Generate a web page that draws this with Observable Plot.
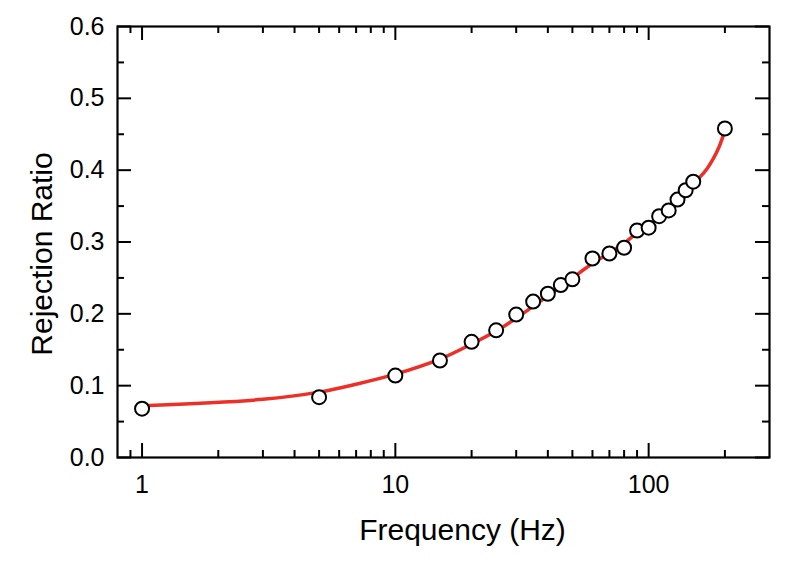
<!DOCTYPE html>
<html>
<head>
<meta charset="utf-8">
<script src="https://cdn.jsdelivr.net/npm/d3@7"></script>
<script src="https://cdn.jsdelivr.net/npm/@observablehq/plot@0.6"></script>
<style>
  html, body { margin: 0; padding: 0; background: #fff; }
</style>
</head>
<body>
<div id="chart"></div>
<script>
// Measured points
const freq = [1, 5, 10, 15, 20, 25, 30, 35, 40, 45, 50, 60, 70, 80, 90, 100, 110, 120, 130, 140, 150, 200];
const ratio = [0.068, 0.084, 0.114, 0.135, 0.161, 0.177, 0.199, 0.217, 0.228, 0.240, 0.248, 0.277, 0.284, 0.292, 0.316, 0.320, 0.336, 0.344, 0.359, 0.372, 0.384, 0.458];

// Fitted curve
const fitFreq = [1, 3, 5, 7, 10, 15, 20, 25, 30, 40, 50, 60, 70, 80, 90, 100, 110, 120, 130, 140, 150, 160, 170, 180, 190, 200];
const fitRatio = [0.072, 0.081, 0.091, 0.102, 0.116, 0.137, 0.158, 0.176, 0.194, 0.225, 0.250, 0.270, 0.285, 0.298, 0.313, 0.324, 0.335, 0.346, 0.357, 0.369, 0.382, 0.391, 0.402, 0.416, 0.433, 0.455];

// Axis ticks
const xMajor = [1, 10, 100];
const xMinor = [0.9, 2, 3, 4, 5, 6, 7, 8, 9, 20, 30, 40, 50, 60, 70, 80, 90, 200];
const yMajor = [0, 0.1, 0.2, 0.3, 0.4, 0.5, 0.6];
const yMinor = [0.05, 0.15, 0.25, 0.35, 0.45, 0.55];

const points = freq.map((f, i) => ({f, r: ratio[i]}));
const fit = fitFreq.map((f, i) => ({f, r: fitRatio[i]}));

const W = 788, H = 566, ML = 117, MR = 19, MT = 26, MB = 109;
const FW = W - ML - MR, FH = H - MT - MB;
const MAJ = 14, MIN = 7;
const tk = {stroke: "#000", strokeWidth: 2};

const plot = Plot.plot({
  width: W,
  height: H,
  marginLeft: ML,
  marginRight: MR,
  marginTop: MT,
  marginBottom: MB,
  style: {fontFamily: "'Liberation Sans', Arial, sans-serif", fontSize: "25px", color: "#000", background: "#fff"},
  x: {type: "log", domain: [0.8, 300]},
  y: {domain: [0, 0.6]},
  marks: [
    // inward ticks on all four sides
    Plot.ruleX(xMajor, {x: d => d, insetTop: FH - MAJ, ...tk}),
    Plot.ruleX(xMinor, {x: d => d, insetTop: FH - MIN, ...tk}),
    Plot.ruleX(xMajor, {x: d => d, insetBottom: FH - MAJ, ...tk}),
    Plot.ruleX(xMinor, {x: d => d, insetBottom: FH - MIN, ...tk}),
    Plot.ruleY(yMajor, {y: d => d, insetRight: FW - MAJ, ...tk}),
    Plot.ruleY(yMinor, {y: d => d, insetRight: FW - MIN, ...tk}),
    Plot.ruleY(yMajor, {y: d => d, insetLeft: FW - MAJ, ...tk}),
    Plot.ruleY(yMinor, {y: d => d, insetLeft: FW - MIN, ...tk}),
    // tick labels
    Plot.axisX(xMajor, {anchor: "bottom", tickSize: 0, tickPadding: 18, tickFormat: d => String(d), label: null, fontSize: 25}),
    Plot.axisY(yMajor, {anchor: "left", tickSize: 0, tickPadding: 13, tickFormat: d3.format(".1f"), label: null, fontSize: 25}),
    // axis titles
    Plot.text(["Frequency (Hz)"], {frameAnchor: "bottom", textAnchor: "middle", lineAnchor: "middle", dx: 19, dy: 73, text: d => d, fontSize: 30}),
    Plot.text(["Rejection Ratio"], {frameAnchor: "left", textAnchor: "middle", lineAnchor: "middle", dx: -75, dy: 12, rotate: -90, text: d => d, fontSize: 30}),
    Plot.frame({stroke: "#000", strokeWidth: 2.2}),
    // fitted curve
    Plot.line(fit, {x: "f", y: "r", stroke: "#ec3028", strokeWidth: 3.5, curve: "catmull-rom"}),
    // data points
    Plot.dot(points, {x: "f", y: "r", r: 7, fill: "#fff", stroke: "#000", strokeWidth: 2})
  ]
});
document.getElementById("chart").appendChild(plot);
</script>
</body>
</html>
